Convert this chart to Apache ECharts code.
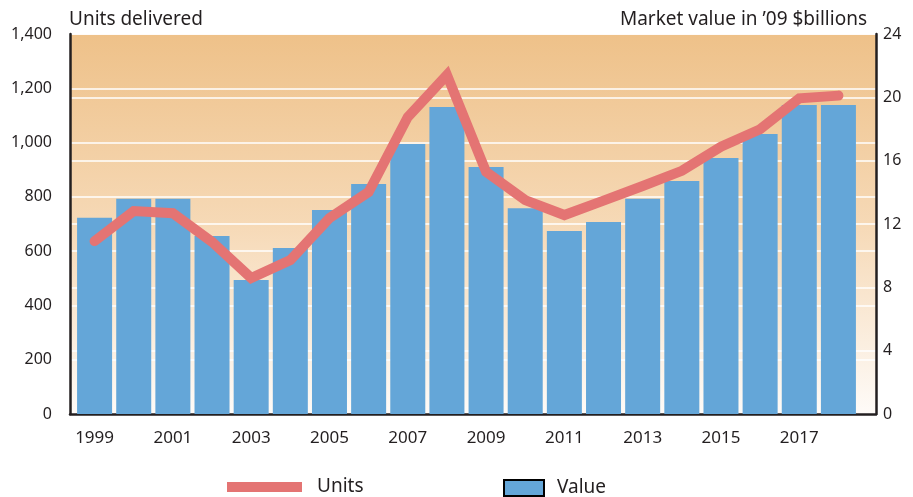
<!DOCTYPE html>
<html>
<head>
<meta charset="utf-8">
<script src="https://cdn.jsdelivr.net/npm/echarts@6/dist/echarts.min.js"></script>
<style>
  html, body { margin: 0; padding: 0; background: #fff; }
  #chart { width: 913px; height: 497px; }
</style>
</head>
<body>
<div id="chart"></div>
<script>
const years = ['1999', '2000', '2001', '2002', '2003', '2004', '2005', '2006', '2007', '2008',
  '2009', '2010', '2011', '2012', '2013', '2014', '2015', '2016', '2017', '2018'];
// units delivered (left axis)
const units = [637, 748, 740, 634, 501, 567, 722, 818, 1094, 1249,
  892, 788, 733, 786, 840, 896, 985, 1049, 1163, 1173];
// market value, '09 $billions (right axis)
const value = [12.4, 13.6, 13.6, 11.24, 8.46, 10.48, 12.88, 14.53, 17.05, 19.39,
  15.6, 13.0, 11.56, 12.13, 13.6, 14.72, 16.17, 17.68, 19.52, 19.52];

const FONT = 'Noto Sans';
const TEXT = '#231f20';
const lineColor = '#e47473';
const barColor = '#64a6d8';

const chart = echarts.init(document.getElementById('chart'), null, { renderer: 'canvas' });

const opts = {
  animation: false,
  textStyle: { fontFamily: FONT, color: TEXT },
  title: [
    {
      text: 'Units delivered',
      left: 64,
      top: 5,
      textStyle: { fontFamily: FONT, fontSize: 19, fontWeight: 'normal', color: TEXT },
    },
    {
      text: 'Market value in ’09 $billions',
      right: 41,
      top: 5,
      textStyle: { fontFamily: FONT, fontSize: 19, fontWeight: 'normal', color: TEXT },
    },
  ],
  legend: [
    {
      data: [{ name: 'Units', icon: 'rect', itemStyle: { color: lineColor } }],
      left: 222,
      top: 471,
      itemWidth: 75,
      itemHeight: 10,
      textStyle: { fontFamily: FONT, fontSize: 19, lineHeight: 22, color: TEXT, padding: [0, 0, 0, 10] },
    },
    {
      data: [{ name: 'Value', icon: 'rect', itemStyle: { color: barColor, borderColor: '#000', borderWidth: 2 } }],
      left: 498,
      top: 472,
      itemWidth: 40,
      itemHeight: 16,
      textStyle: { fontFamily: FONT, fontSize: 19, lineHeight: 22, color: TEXT, padding: [0, 0, 0, 8] },
    },
  ],
  grid: [
    {
      left: 70, right: 37, top: 34, bottom: 83,
      show: true,
      borderWidth: 0,
      backgroundColor: new echarts.graphic.LinearGradient(0, 0, 0, 1, [
        { offset: 0, color: '#eec189' },
        { offset: 0.5, color: '#f6d9b6' },
        { offset: 1, color: '#fefbf8' },
      ]),
    },
    { left: 75, right: 55, top: 34, bottom: 83 },
  ],
  xAxis: [
    {
      gridIndex: 0,
      type: 'value',
      min: 0,
      max: 1,
      axisLine: { show: true, onZero: false, lineStyle: { color: TEXT, width: 2.5 } },
      axisTick: { show: false },
      axisLabel: { show: false },
      splitLine: { show: false },
    },
    {
      gridIndex: 1,
      type: 'category',
      data: years,
      axisLine: { show: false },
      axisTick: { show: false },
      axisLabel: {
        interval: 1,
        margin: 16,
        fontFamily: FONT,
        fontSize: 17,
        color: TEXT,
      },
    },
  ],
  yAxis: [
    {
      gridIndex: 0,
      type: 'value',
      position: 'left',
      min: 0,
      max: 1400,
      interval: 200,
      axisLine: { show: true, lineStyle: { color: TEXT, width: 2.5 } },
      axisTick: { show: false },
      axisLabel: {
        margin: 18,
        fontFamily: FONT,
        fontSize: 16,
        color: TEXT,
        formatter: (v) => v.toLocaleString('en-US'),
      },
      splitLine: { show: true, lineStyle: { color: '#ffffff', width: 1.5 } },
    },
    {
      gridIndex: 0,
      type: 'value',
      position: 'right',
      min: 0,
      max: 24,
      interval: 4,
      axisLine: { show: true, lineStyle: { color: TEXT, width: 2.5 } },
      axisTick: { show: false },
      axisLabel: { margin: 7, fontFamily: FONT, fontSize: 16, color: TEXT },
      splitLine: { show: true, lineStyle: { color: '#ffffff', width: 1.5 } },
    },
    {
      gridIndex: 1, type: 'value', min: 0, max: 1400, show: false, splitLine: { show: false },
    },
    {
      gridIndex: 1, type: 'value', min: 0, max: 24, show: false, splitLine: { show: false },
    },
  ],
  series: [
    {
      name: 'Value',
      type: 'bar',
      xAxisIndex: 1,
      yAxisIndex: 3,
      data: value,
      barWidth: 35,
      itemStyle: { color: barColor },
      z: 2,
    },
    {
      name: 'Units',
      type: 'line',
      xAxisIndex: 1,
      yAxisIndex: 2,
      data: units,
      symbol: 'none',
      lineStyle: { color: lineColor, width: 10, cap: 'round', join: 'miter' },
      itemStyle: { color: lineColor },
      z: 3,
    },
  ],
};

chart.setOption(opts);
</script>
</body>
</html>
